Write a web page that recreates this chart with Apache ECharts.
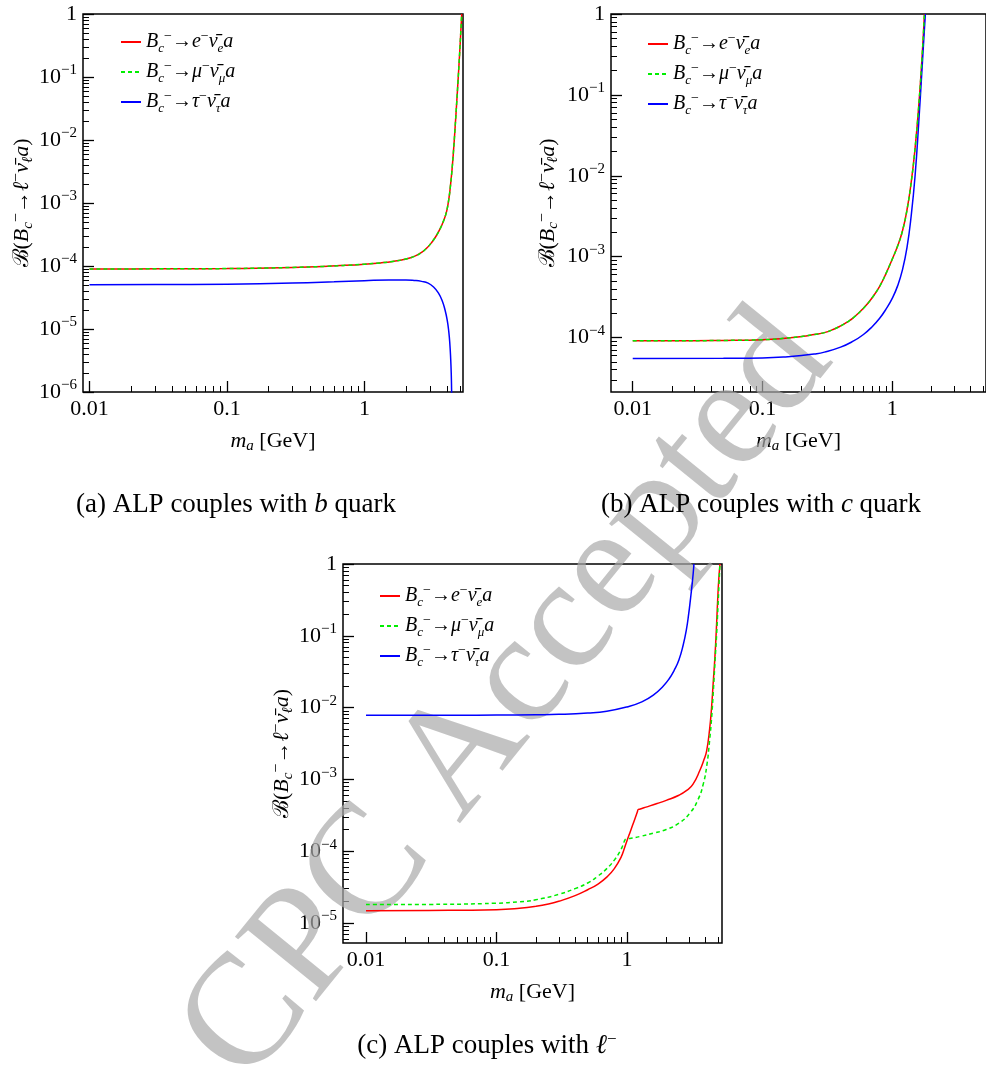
<!DOCTYPE html>
<html>
<head>
<meta charset="utf-8">
<script src="https://cdn.jsdelivr.net/npm/echarts@6/dist/echarts.min.js"></script>
<style>
  html, body { margin: 0; background: #fff; }
  #chart { width: 986px; height: 1079px; }
</style>
</head>
<body>
<div id="chart"></div>
<script>
// (a) ALP couples with b quark
const bQuarkE = [[0.01, 9.0e-5], [0.02, 9.0e-5], [0.05, 9.05e-5], [0.1, 9.1e-5], [0.2, 9.3e-5], [0.3, 9.5e-5], [0.5, 9.85e-5], [0.7, 1.02e-4], [1, 1.07e-4], [1.3, 1.12e-4], [1.6, 1.18e-4], [2, 1.29e-4], [2.3, 1.42e-4], [2.6, 1.64e-4], [2.85, 1.95e-4], [3.05, 2.31e-4], [3.3, 2.94e-4], [3.55, 3.92e-4], [3.75, 5.16e-4], [3.9, 6.6e-4], [4.0, 8.3e-4], [4.1, 1.15e-3], [4.2, 1.74e-3], [4.34, 3.65e-3], [4.45, 7.4e-3], [4.55, 1.51e-2], [4.67, 3.66e-2], [4.78, 8.35e-2], [4.91, 0.228], [5.0, 0.47], [5.09, 1]];
const bQuarkMu = [[0.01, 9.0e-5], [0.02, 9.0e-5], [0.05, 9.05e-5], [0.1, 9.1e-5], [0.2, 9.3e-5], [0.3, 9.5e-5], [0.5, 9.85e-5], [0.7, 1.02e-4], [1, 1.07e-4], [1.3, 1.12e-4], [1.6, 1.18e-4], [2, 1.29e-4], [2.3, 1.42e-4], [2.6, 1.64e-4], [2.85, 1.95e-4], [3.05, 2.31e-4], [3.3, 2.94e-4], [3.55, 3.92e-4], [3.75, 5.16e-4], [3.9, 6.6e-4], [4.0, 8.3e-4], [4.1, 1.15e-3], [4.2, 1.74e-3], [4.34, 3.65e-3], [4.45, 7.4e-3], [4.55, 1.51e-2], [4.67, 3.66e-2], [4.78, 8.35e-2], [4.91, 0.228], [5.0, 0.47], [5.09, 1]];
const bQuarkTau = [[0.01, 5.05e-5], [0.03, 5.08e-5], [0.1, 5.15e-5], [0.3, 5.35e-5], [0.6, 5.6e-5], [1, 5.85e-5], [1.5, 6.0e-5], [2, 6.0e-5], [2.3, 5.9e-5], [2.6, 5.7e-5], [2.9, 5.35e-5], [3.19, 4.6e-5], [3.45, 3.7e-5], [3.67, 2.8e-5], [3.85, 2.0e-5], [4.0, 1.35e-5], [4.1, 9e-6], [4.17, 5.9e-6], [4.23, 3.4e-6], [4.27, 2e-6], [4.3, 1e-6], [4.31, 8e-7]];

// (b) ALP couples with c quark
const cQuarkE = [[0.01, 9.1e-5], [0.02, 9.1e-5], [0.05, 9.2e-5], [0.1, 9.4e-5], [0.15, 9.8e-5], [0.2, 1.03e-4], [0.25, 1.09e-4], [0.3, 1.15e-4], [0.35, 1.255e-4], [0.4, 1.39e-4], [0.45, 1.555e-4], [0.5, 1.75e-4], [0.6, 2.3e-4], [0.7, 3.1e-4], [0.8, 4.3e-4], [0.9, 6.3e-4], [1, 9.3e-4], [1.1, 1.35e-3], [1.2, 2.09e-3], [1.3, 3.8e-3], [1.4, 8.3e-3], [1.5, 2.19e-2], [1.6, 7.24e-2], [1.7, 0.302], [1.77, 1]];
const cQuarkMu = [[0.01, 9.1e-5], [0.02, 9.1e-5], [0.05, 9.2e-5], [0.1, 9.4e-5], [0.15, 9.8e-5], [0.2, 1.03e-4], [0.25, 1.09e-4], [0.3, 1.15e-4], [0.35, 1.255e-4], [0.4, 1.39e-4], [0.45, 1.555e-4], [0.5, 1.75e-4], [0.6, 2.3e-4], [0.7, 3.1e-4], [0.8, 4.3e-4], [0.9, 6.3e-4], [1, 9.3e-4], [1.1, 1.35e-3], [1.2, 2.09e-3], [1.3, 3.8e-3], [1.4, 8.3e-3], [1.5, 2.19e-2], [1.6, 7.24e-2], [1.7, 0.302], [1.77, 1]];
const cQuarkTau = [[0.01, 5.5e-5], [0.05, 5.55e-5], [0.1, 5.6e-5], [0.15, 5.75e-5], [0.2, 6.0e-5], [0.25, 6.25e-5], [0.3, 6.6e-5], [0.4, 7.6e-5], [0.5, 9.0e-5], [0.6, 1.09e-4], [0.7, 1.36e-4], [0.8, 1.73e-4], [0.9, 2.27e-4], [1, 3.05e-4], [1.1, 4.35e-4], [1.2, 6.9e-4], [1.3, 1.3e-3], [1.4, 3.2e-3], [1.5, 1.0e-2], [1.6, 4.5e-2], [1.7, 0.22], [1.76, 0.56], [1.8, 1]];

// (c) ALP couples with the charged lepton
const leptonE = [[0.01, 1.48e-5], [0.03, 1.49e-5], [0.1, 1.53e-5], [0.15, 1.6e-5], [0.2, 1.7e-5], [0.25, 1.83e-5], [0.3, 2.0e-5], [0.4, 2.4e-5], [0.5, 2.9e-5], [0.6, 3.48e-5], [0.7, 4.34e-5], [0.8, 5.71e-5], [0.9, 8.2e-5], [0.95, 1.06e-4], [1.0, 1.4e-4], [1.05, 1.78e-4], [1.1, 2.25e-4], [1.16, 2.95e-4], [1.2, 3.5e-4], [1.22, 3.8e-4], [1.25, 3.84e-4], [1.4, 4.1e-4], [1.7, 4.6e-4], [2, 5.1e-4], [2.5, 6.0e-4], [2.87, 7.0e-4], [3.2, 8.5e-4], [3.63, 1.35e-3], [3.9, 1.9e-3], [4.08, 2.5e-3], [4.3, 5e-3], [4.45, 1.0e-2], [4.58, 2.2e-2], [4.72, 5e-2], [4.85, 0.13], [4.95, 0.3], [5.05, 0.6], [5.16, 1]];
const leptonMu = [[0.01, 1.8e-5], [0.03, 1.81e-5], [0.1, 1.88e-5], [0.15, 1.97e-5], [0.2, 2.1e-5], [0.3, 2.5e-5], [0.4, 3.0e-5], [0.5, 3.6e-5], [0.6, 4.5e-5], [0.7, 5.7e-5], [0.8, 7.5e-5], [0.88, 9.8e-5], [0.93, 1.2e-4], [0.97, 1.45e-4], [1.0, 1.48e-4], [1.1, 1.52e-4], [1.26, 1.6e-4], [1.6, 1.78e-4], [2.0, 2.0e-4], [2.5, 2.45e-4], [3.04, 3.4e-4], [3.5, 5.2e-4], [3.85, 8.7e-4], [4.1, 1.6e-3], [4.3, 3.5e-3], [4.46, 7.4e-3], [4.6, 1.8e-2], [4.75, 5e-2], [4.87, 0.107], [4.98, 0.25], [5.07, 0.5], [5.16, 1]];
const leptonTau = [[0.01, 7.8e-3], [0.05, 7.8e-3], [0.1, 7.85e-3], [0.2, 7.95e-3], [0.3, 8.05e-3], [0.5, 8.4e-3], [0.7, 8.9e-3], [1, 1.02e-2], [1.3, 1.2e-2], [1.6, 1.5e-2], [1.9, 2.0e-2], [2.1, 2.5e-2], [2.3, 3.3e-2], [2.5, 4.6e-2], [2.7, 7.5e-2], [2.85, 0.12], [2.97, 0.2], [3.07, 0.33], [3.15, 0.5], [3.22, 0.75], [3.26, 1]];

const xMajor = [0.01, 0.1, 1];
const xLabels = ['0.01', '0.1', '1'];
const xMinor = [0.02, 0.03, 0.04, 0.05, 0.06, 0.07, 0.08, 0.09, 0.2, 0.3, 0.4, 0.5, 0.6, 0.7, 0.8, 0.9, 2, 3, 4, 5];
const yExpA = [-6, -5, -4, -3, -2, -1, 0];
const yExpB = [-4, -3, -2, -1, 0];
const yExpC = [-5, -4, -3, -2, -1, 0];

const FONT = '"Liberation Serif", "Times New Roman", serif';
const names = ['e', 'mu', 'tau'];
const legendText = {
  e: '{i|B}{sub|c}{sup|−}{r|→}{i|e}{sup|−}{i|ν\u0304}{sub|e}{i|a}',
  mu: '{i|B}{sub|c}{sup|−}{r|→}{i|μ}{sup|−}{i|ν\u0304}{sub|μ}{i|a}',
  tau: '{i|B}{sub|c}{sup|−}{r|→}{i|τ}{sup|−}{i|ν\u0304}{sub|τ}{i|a}'
};

function makeRich(size) {
  const small = Math.round(size * 0.66);
  return {
    i: { fontStyle: 'italic', fontSize: size, fontFamily: FONT, lineHeight: 26, color: '#000' },
    r: { fontSize: size, fontFamily: FONT, lineHeight: 26, color: '#000' },
    s: { fontSize: size, fontFamily: '"DejaVu Serif", serif', lineHeight: 26, color: '#000' },
    sub: { fontStyle: 'italic', fontSize: small, fontFamily: FONT, verticalAlign: 'bottom', lineHeight: small, color: '#000' },
    sup: { fontSize: small + 1, fontFamily: FONT, verticalAlign: 'top', lineHeight: small + 1, color: '#000' }
  };
}
const rich20 = makeRich(20);
const rich22 = makeRich(22);

function minorY(lo, hi) {
  const out = [];
  for (let e = lo; e < hi; e++) for (let m = 2; m <= 9; m++) out.push(m * Math.pow(10, e));
  return out;
}

function nearest(arr, v) {
  let best = 0;
  arr.forEach((a, i) => { if (Math.abs(Math.log10(a / v)) < Math.abs(Math.log10(arr[best] / v))) best = i; });
  return best;
}

const xAxes = [], yAxes = [], grids = [];

function panel(g, box, xr, yr, yExp, yGap) {
  grids.push({ left: box[0], top: box[1], width: box[2], height: box[3], show: true,
    borderColor: '#000', borderWidth: 1.5, backgroundColor: 'transparent' });
  const yMajor = yExp.map(e => Math.pow(10, e));
  const tickStyle = { color: '#000', width: 1.3 };
  xAxes.push({
    type: 'log', gridIndex: g, position: 'bottom', min: xr[0], max: xr[1],
    axisLine: { show: false }, splitLine: { show: false },
    axisTick: { inside: true, length: 11, customValues: xMajor, lineStyle: tickStyle },
    axisLabel: { customValues: xMajor, formatter: v => xLabels[nearest(xMajor, v)],
      color: '#000', fontFamily: FONT, fontSize: 22, margin: 6 },
    name: '{i|m}{sub|a} [GeV]', nameLocation: 'middle', nameGap: 36,
    nameTextStyle: { fontFamily: FONT, fontSize: 22, color: '#000', lineHeight: 26, rich: rich22 }
  }, {
    type: 'log', gridIndex: g, position: 'bottom', min: xr[0], max: xr[1],
    axisLine: { show: false }, splitLine: { show: false }, axisLabel: { show: false },
    axisTick: { inside: true, length: 6, customValues: xMinor.filter(v => v < xr[1]), lineStyle: { color: '#000', width: 1 } }
  });
  yAxes.push({
    type: 'log', gridIndex: g, position: 'left', min: yr[0], max: yr[1],
    axisLine: { show: false }, splitLine: { show: false },
    axisTick: { inside: true, length: 11, customValues: yMajor, lineStyle: tickStyle },
    axisLabel: { customValues: yMajor,
      formatter: v => { const e = yExp[nearest(yMajor, v)]; return e === 0 ? '1' : '10{sup|−' + (-e) + '}'; },
      color: '#000', fontFamily: FONT, fontSize: 22, margin: 6, lineHeight: 28,
      rich: { sup: { fontSize: 15, fontFamily: FONT, verticalAlign: 'top', lineHeight: 15, color: '#000' } } },
    name: '{s|ℬ}({i|B}{sub|c}{sup|−}{r|→}{i|ℓ}{sup|−}{i|ν\u0304}{sub|ℓ}{i|a})',
    nameLocation: 'middle', nameRotate: 90, nameGap: yGap,
    nameTextStyle: { fontFamily: FONT, fontSize: 22, color: '#000', lineHeight: 26, rich: rich22 }
  }, {
    type: 'log', gridIndex: g, position: 'left', min: yr[0], max: yr[1],
    axisLine: { show: false }, splitLine: { show: false }, axisLabel: { show: false },
    axisTick: { inside: true, length: 6, customValues: minorY(yExp[0] - 1, 0).filter(v => v > yr[0]),
      lineStyle: { color: '#000', width: 1 } }
  });
}

panel(0, [83, 11, 380, 381], [0.00897, 5.2], [1e-6, 1], yExpA, 47);
panel(1, [611, 12, 380, 380], [0.0068, 5.28], [2.12e-5, 1], yExpB, 50);
panel(2, [343, 564, 379, 379], [0.00666, 5.35], [5.25e-6, 1], yExpC, 47);

const colors = { e: '#ff0000', mu: '#00ee00', tau: '#0000ff' };
function line(name, data, g) {
  return {
    type: 'line', name, data, xAxisIndex: 2 * g, yAxisIndex: 2 * g,
    showSymbol: false, symbol: 'none', smooth: 0.5,
    lineStyle: { color: colors[name], width: 1.5, type: name === 'mu' ? [4, 3] : 'solid' },
    itemStyle: { color: colors[name] }, z: name === 'mu' ? 4 : 3
  };
}

const series = [
  line('e', bQuarkE, 0), line('mu', bQuarkMu, 0), line('tau', bQuarkTau, 0),
  line('e', cQuarkE, 1), line('mu', cQuarkMu, 1), line('tau', cQuarkTau, 1),
  line('e', leptonE, 2), line('mu', leptonMu, 2), line('tau', leptonTau, 2)
];

function legend(left, top) {
  return {
    left, top, orient: 'vertical', data: names, itemWidth: 20, itemHeight: 10, itemGap: 4,
    selectedMode: false, formatter: n => legendText[n], itemStyle: { opacity: 0 },
    textStyle: { fontFamily: FONT, fontSize: 20, color: '#000', lineHeight: 26, rich: rich20 }
  };
}

const captionRich = {
  i: { fontStyle: 'italic', fontSize: 27, fontFamily: FONT, fill: '#000' },
  sup: { fontSize: 17, fontFamily: FONT, verticalAlign: 'top', lineHeight: 17, fill: '#000' }
};
function caption(x, y, text) {
  return { type: 'text', x, y, z: 10,
    style: { text, align: 'center', verticalAlign: 'middle', font: '27px ' + FONT, fill: '#000',
      lineHeight: 30, rich: captionRich } };
}

const chart = echarts.init(document.getElementById('chart'));
chart.setOption({
  animation: false,
  backgroundColor: '#fff',
  grid: grids,
  xAxis: xAxes,
  yAxis: yAxes,
  legend: [legend(115, 24), legend(642, 26), legend(374, 578)],
  series,
  graphic: [
    caption(236, 505, '(a) ALP couples with {i|b} quark'),
    caption(761, 505, '(b) ALP couples with {i|c} quark'),
    caption(487, 1046, '(c) ALP couples with {i|ℓ}{sup|−}'),
    { type: 'text', x: 508, y: 698, rotation: 0.89, z: 1, silent: true,
      style: { text: 'CPC Accepted', align: 'center', verticalAlign: 'middle',
        font: '158px ' + FONT, fill: 'rgba(170,170,170,0.7)' } }
  ]
});
</script>
</body>
</html>
